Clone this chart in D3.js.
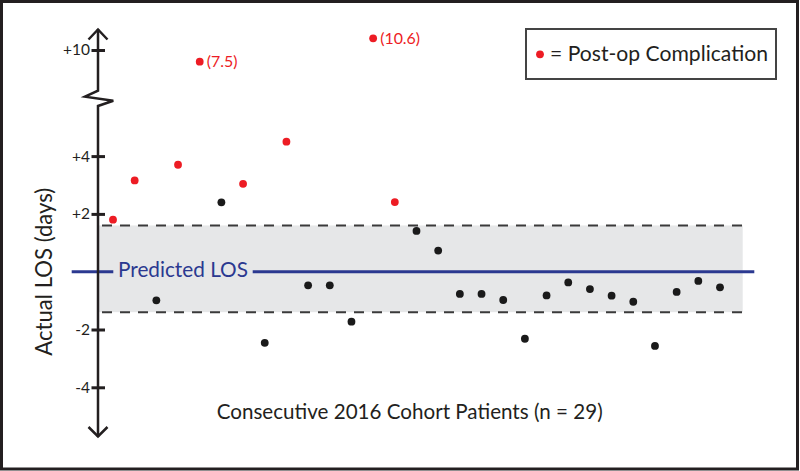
<!DOCTYPE html>
<html>
<head>
<meta charset="utf-8">
<script src="https://cdn.jsdelivr.net/npm/d3@7/dist/d3.min.js"></script>
<style>
  html, body { margin: 0; padding: 0; background: #fff; }
  svg { display: block; font-family: Lato, "Open Sans", sans-serif; }
</style>
</head>
<body>
<svg id="chart" width="800" height="471"></svg>
<script>
// ---------------- data ----------------
const patients = d3.range(1, 30); // 29 consecutive patients
const losDiff = [1.80, 3.16, -0.99, 3.70, 7.5, 2.40, 3.04, -2.46, 4.50, -0.47,
                 -0.47, -1.73, 10.6, 2.41, 1.41, 0.73, -0.77, -0.77, -0.98, -2.32,
                 -0.82, -0.37, -0.60, -0.83, -1.04, -2.57, -0.70, -0.32, -0.54];
const complication = [1, 1, 0, 1, 1, 0, 1, 0, 1, 0,
                      0, 0, 1, 1, 0, 0, 0, 0, 0, 0,
                      0, 0, 0, 0, 0, 0, 0, 0, 0];
const lowerTicks = [-4, -2, 2, 4];
const lowerTickLabels = ["-4", "-2", "+2", "+4"];
const upperTicks = [10];
const upperTickLabels = ["+10"];
const bandRange = [-1.4, 1.6];
const breakValue = 5; // values above this are drawn on the broken (upper) segment
const texts = {
  yTitle: "Actual LOS (days)",
  xTitle: "Consecutive 2016 Cohort Patients (n = 29)",
  predicted: "Predicted LOS",
  legend: "= Post-op Complication"
};

// ---------------- layout ----------------
const axisX = 98;
const red = "#ed1c24", dark = "#231f20", blue = "#2b3990";

const svg = d3.select("#chart");

// outer frame
svg.append("rect").attr("x", 1.5).attr("y", 1.5).attr("width", 796).attr("height", 467.5)
  .attr("fill", "#fff").attr("stroke", dark).attr("stroke-width", 3);

const x = d3.scalePoint().domain(patients).range([113, 720]);
const yLow = d3.scaleLinear().domain([-4, 4]).range([387.3, 156.1]);
const yUp = d3.scaleLinear().domain([7.5, 10, 10.6]).range([61.7, 50, 38.3]);
const yOf = v => v > breakValue ? yUp(v) : yLow(v);

// reference band
const bandRight = 742.7;
svg.append("rect")
  .attr("x", axisX).attr("width", bandRight - axisX)
  .attr("y", yLow(bandRange[1])).attr("height", yLow(bandRange[0]) - yLow(bandRange[1]))
  .attr("fill", "#e6e7e8");
svg.selectAll("line.band").data(bandRange).join("line").attr("class", "band")
  .attr("x1", axisX + 4).attr("x2", bandRight)
  .attr("y1", d => yLow(d)).attr("y2", d => yLow(d))
  .attr("stroke", "#3a3a3a").attr("stroke-width", 2).attr("stroke-dasharray", "10,8");

// predicted LOS line (with a gap for its label)
const y0 = yLow(0);
svg.append("line").attr("x1", 71.7).attr("x2", 113.3).attr("y1", y0).attr("y2", y0)
  .attr("stroke", blue).attr("stroke-width", 3);
svg.append("line").attr("x1", 252.7).attr("x2", 754.3).attr("y1", y0).attr("y2", y0)
  .attr("stroke", blue).attr("stroke-width", 3);
const predText = svg.append("text").attr("x", 118).attr("y", y0 + 5.5)
  .attr("fill", blue).attr("font-size", 18).text(texts.predicted);

// y axis line with break and arrows
const axisG = svg.append("g").attr("fill", "none").attr("stroke", dark).attr("stroke-width", 2.5)
  .attr("stroke-linejoin", "miter").attr("stroke-linecap", "butt");
axisG.append("path").attr("d",
  `M${axisX},29 L${axisX},90.7 L85,96.7 L113.3,100.7 L${axisX},106 L${axisX},437`);
axisG.append("path").attr("d", `M88.5,39.5 L${axisX},29.5 L107.5,39.5`);
axisG.append("path").attr("d", `M88.5,427 L${axisX},436.5 L107.5,427`);

// ticks via d3 axes
function fit(sel, target) {
  const w = sel.node().getComputedTextLength();
  const fs = +sel.attr("font-size");
  if (w > 0) sel.attr("font-size", (fs * target / w).toFixed(2));
  return +sel.attr("font-size");
}
function styleAxis(g) {
  g.select(".domain").remove();
  g.selectAll(".tick line").attr("x1", 7).attr("x2", -6.5)
    .attr("stroke", dark).attr("stroke-width", 3);
  g.selectAll(".tick text").attr("x", -8).attr("fill", dark)
    .attr("font-size", 17).attr("font-family", "Lato, sans-serif");
}
const lowAxis = d3.axisLeft(yLow).tickValues(lowerTicks)
  .tickFormat((d, i) => lowerTickLabels[i]).tickSize(6.5).tickPadding(2);
const lowG = svg.append("g").attr("transform", `translate(${axisX},0)`).call(lowAxis).call(styleAxis);
const upAxis = d3.axisLeft(yUp).tickValues(upperTicks)
  .tickFormat((d, i) => upperTickLabels[i]).tickSize(6.5).tickPadding(2);
const upG = svg.append("g").attr("transform", `translate(${axisX},0)`).call(upAxis).call(styleAxis);
const tickFs = fit(upG.select(".tick text"), 27);
lowG.selectAll(".tick text").attr("font-size", tickFs);

// points
const pts = patients.map((p, i) => ({ p, v: losDiff[i], c: complication[i] }));
svg.selectAll("circle.pt").data(pts).join("circle").attr("class", "pt")
  .attr("cx", d => x(d.p)).attr("cy", d => yOf(d.v)).attr("r", 3.9)
  .attr("fill", d => d.c ? red : "#1a1a1a");

// value labels for broken-axis points
const valLabels = svg.selectAll("text.val").data(pts.filter(d => d.v > breakValue)).join("text")
  .attr("class", "val")
  .attr("x", d => x(d.p) + 7).attr("y", d => yOf(d.v)).attr("dy", "0.35em")
  .attr("fill", red).attr("font-size", 16).text(d => `(${d.v})`);
const valFs = fit(valLabels.filter(d => d.v === 10.6), 40);
valLabels.attr("font-size", valFs);

// axis titles
const yTitle = svg.append("text")
  .attr("transform", `translate(44,${y0}) rotate(-90)`)
  .attr("text-anchor", "middle").attr("dy", "0.35em")
  .attr("fill", dark).attr("font-size", 19).text(texts.yTitle);
const xTitle = svg.append("text").attr("x", 409.7).attr("y", 419)
  .attr("text-anchor", "middle").attr("fill", dark).attr("font-size", 19).text(texts.xTitle);

// legend
svg.append("rect").attr("x", 526).attr("y", 29).attr("width", 250).attr("height", 50)
  .attr("fill", "#fff").attr("stroke", "#444").attr("stroke-width", 2);
svg.append("circle").attr("cx", 540).attr("cy", 54.3).attr("r", 3.9).attr("fill", red);
const legText = svg.append("text").attr("x", 550).attr("y", 60.7)
  .attr("fill", dark).attr("font-size", 19).text(texts.legend);

fit(xTitle, 386);
fit(legText, 218);
fit(predText, 130);
fit(yTitle, 168);
</script>
</body>
</html>
